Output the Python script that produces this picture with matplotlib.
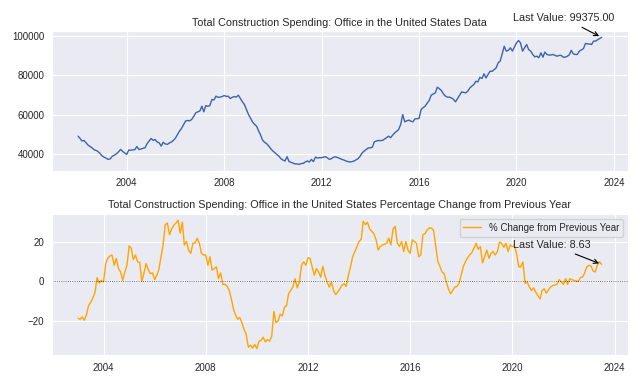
import matplotlib
matplotlib.use("Agg")
import matplotlib.pyplot as plt
import seaborn as sns
import pandas as pd

sns.set_style("darkgrid")
plt.rcParams['font.family'] = ['Liberation Sans', 'DejaVu Sans']

# Total construction spending: office (monthly, 2002-01 .. 2023-07)
spending = [
    49000, 47800, 46500, 46800, 45600, 44400, 43700, 43000, 42000, 41700, 41000, 40000,  # 2002
    38800, 38200, 37600, 37100, 37500, 38800, 39300, 40000, 41000, 42200, 41200, 40400,  # 2003
    39700, 41900, 41800, 42000, 42100, 43700, 42200, 42400, 42800, 43000, 45100, 46500,  # 2004
    47800, 46800, 47300, 46000, 45600, 43900, 45900, 45000, 44800, 45500, 46000, 46800,  # 2005
    48000, 49900, 51500, 52900, 54800, 56700, 57000, 56800, 57500, 59000, 60900, 61400,  # 2006
    61800, 64300, 61400, 64600, 64200, 64600, 67700, 67500, 69400, 68800, 68900, 69200,  # 2007
    69700, 69300, 69400, 68200, 68800, 69200, 68900, 69900, 68200, 66500, 65100, 62500,  # 2008
    60000, 58000, 56300, 55000, 54100, 51600, 49500, 46800, 45800, 45100, 43900, 42500,  # 2009
    41400, 40500, 39600, 38800, 37500, 36800, 36300, 38500, 36000, 35600, 35200, 34800,  # 2010
    34800, 34600, 35000, 35100, 35800, 36300, 35800, 37100, 36000, 38300, 37800, 38000,  # 2011
    38000, 38300, 38500, 37800, 37100, 37600, 38300, 38400, 38000, 37600, 37100, 36800,  # 2012
    36300, 36000, 35800, 36000, 36300, 36900, 37500, 38800, 40500, 41400, 42200, 43000,  # 2013
    43000, 43400, 46100, 46500, 46800, 46700, 46800, 47500, 48200, 49000, 48200, 49500,  # 2014
    50700, 51500, 52400, 55000, 60000, 56300, 56800, 57200, 56600, 56300, 57800, 57900,  # 2015
    58000, 62600, 63500, 64300, 65800, 67200, 69900, 70500, 71100, 74000, 73200, 72300,  # 2016
    70500, 69400, 68900, 68900, 68500, 67800, 66500, 68200, 69800, 71600, 71300, 71100,  # 2017
    72000, 73600, 74500, 75300, 77000, 76700, 79000, 78400, 80800, 78700, 80500, 82100,  # 2018
    82100, 83000, 83800, 86400, 87300, 91000, 94900, 92400, 92800, 94100, 92400, 94500,  # 2019
    96600, 97800, 96600, 92400, 94100, 95800, 93200, 92400, 90700, 89500, 89800, 89000,  # 2020
    91500, 89300, 91900, 90700, 90400, 90400, 90700, 90200, 89800, 90200, 90200, 89300,  # 2021
    89300, 89800, 90400, 92800, 91000, 90700, 90700, 92400, 93000, 93700, 96300, 96100,  # 2022
    96000, 95800, 97500, 97500, 98200, 98800, 99375,                                     # 2023
]

# percentage change from previous year (monthly, 2003-01 .. 2023-07)
pct_change = [
    -18.7, -19.2, -18.0, -19.7, -17.0, -12.3, -10.6, -8.4, -5.5, 1.9, -0.9, 0.5,   # 2003
    -0.3, 9.1, 11.7, 12.9, 13.4, 8.2, 11.7, 6.5, 4.8, 0.5, 4.8, 8.2,               # 2004
    18.0, 16.8, 11.1, 13.4, 9.9, 9.6, 0.0, 4.3, 9.1, 6.0, 3.9, 4.3,                # 2005
    0.9, 3.1, 6.0, 12.5, 18.5, 28.8, 29.6, 23.7, 26.6, 28.5, 29.6, 31.0,           # 2006
    24.5, 30.0, 18.5, 20.2, 15.9, 14.2, 19.4, 19.4, 21.9, 19.4, 14.2, 13.4,        # 2007
    13.4, 8.2, 12.5, 5.7, 6.5, 7.4, 1.4, 4.3, -1.5, -1.5, -2.5, -4.6,              # 2008
    -8.9, -14.1, -17.0, -19.2, -18.3, -20.9, -24.3, -26.9, -33.4, -32.4, -33.8, -32.0,  # 2009
    -34.1, -30.3, -30.0, -28.3, -30.7, -29.5, -30.3, -27.8, -15.3, -20.9, -20.1, -16.6,  # 2010
    -17.5, -12.9, -12.3, -6.0, -4.6, -2.6, 1.4, -3.3, -0.3, 8.2, 9.9, 8.2,         # 2011
    12.0, 11.7, 7.4, 3.1, 6.5, 4.8, 2.2, 7.7, 3.0, -0.3, -2.9, -0.3,               # 2012
    -4.6, -6.7, -5.5, -3.8, -2.1, -1.2, -2.6, 3.1, 7.4, 12.5, 15.1, 17.5,          # 2013
    20.2, 21.4, 30.5, 28.8, 30.0, 26.6, 25.4, 24.2, 21.1, 15.9, 17.7, 18.5,        # 2014
    18.9, 19.5, 21.9, 18.5, 26.6, 28.0, 19.4, 17.7, 20.2, 15.1, 20.2, 15.9,        # 2015
    14.2, 21.1, 20.2, 19.4, 12.5, 13.4, 23.7, 24.2, 26.2, 27.1, 27.1, 25.9,        # 2016
    18.0, 9.9, 7.7, 4.8, 3.9, -0.3, -3.8, -6.3, -4.6, -2.9, -2.6, -0.9,            # 2017
    3.5, 7.7, 9.9, 12.0, 13.4, 14.6, 16.8, 19.4, 16.3, 17.7, 9.4, 12.5,            # 2018
    15.9, 11.7, 14.2, 15.1, 13.4, 15.1, 19.9, 19.4, 17.3, 19.4, 15.1, 18.5,        # 2019
    17.7, 18.0, 14.2, 7.4, 7.4, 9.9, -1.0, -0.3, -2.9, -4.6, -3.3, -5.5,           # 2020
    -7.2, -8.9, -4.6, -3.8, -6.0, -4.3, -2.9, -2.1, -1.8, -1.5, 0.9, -0.3,         # 2021
    -1.5, 1.4, -1.5, 1.4, 0.9, 0.5, 0.2, 0.0, 1.9, 2.2, 4.3, 7.4,                  # 2022
    8.2, 7.7, 5.3, 4.8, 8.2, 9.9, 8.63,                                            # 2023
]

dates = pd.date_range("2002-01-01", periods=len(spending), freq="MS")
pct_dates = pd.date_range("2003-01-01", periods=len(pct_change), freq="MS")

fig = plt.figure(figsize=(6.4, 3.84), dpi=100)
ax1 = fig.add_axes([0.081, 0.5555, 0.9, 0.3635])
ax2 = fig.add_axes([0.081, 0.0755, 0.9, 0.3675])

# top: level
ax1.plot(dates, spending, color="#3b64ad", linewidth=1.0)
ax1.set_title("Total Construction Spending: Office in the United States Data", fontsize=7.75, pad=4)
ax1.annotate(f"Last Value: {spending[-1]:.2f}", xy=(dates[-1], spending[-1]),
             xytext=(-64, 12), textcoords="offset points", fontsize=7.75,
             arrowprops=dict(arrowstyle="->", color="black", lw=0.8),
             annotation_clip=False)

# bottom: yearly change
ax2.plot(pct_dates, pct_change, color="orange", linewidth=1.0, label="% Change from Previous Year")
ax2.axhline(0, color="black", linestyle=":", linewidth=0.6, alpha=0.8)
ax2.set_title("Total Construction Spending: Office in the United States Percentage Change from Previous Year",
              fontsize=7.75, pad=4)
ax2.legend(loc="upper right", fontsize=7, handlelength=1.8)
ax2.annotate(f"Last Value: {pct_change[-1]:.2f}", xy=(pct_dates[-1], pct_change[-1]),
             xytext=(-64, 12), textcoords="offset points", fontsize=7.75,
             arrowprops=dict(arrowstyle="->", color="black", lw=0.8))

for ax in (ax1, ax2):
    ax.tick_params(labelsize=7, pad=2)

fig.savefig("out.png", dpi=100)
